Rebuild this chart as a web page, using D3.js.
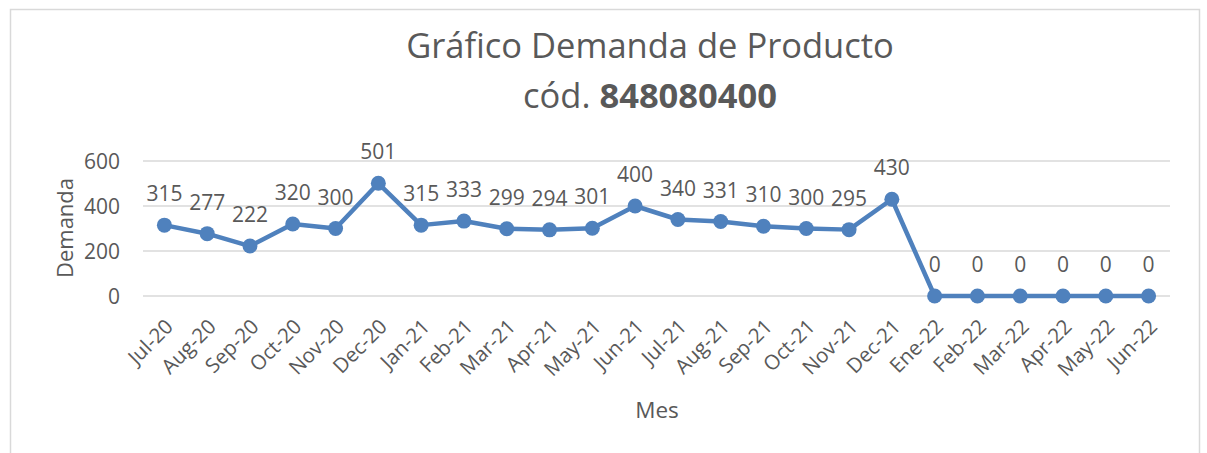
<!DOCTYPE html>
<html lang="es">
<head>
<meta charset="UTF-8">
<title>Gráfico Demanda de Producto</title>
<style>
    body { margin: 0; background: #fff; }
    text { font-family: "Open Sans", sans-serif; fill: #595959; }
    .grid line { stroke: #d9d9d9; stroke-width: 1.5; }
</style>
</head>
<body>
<svg id="chart" width="1207" height="453"></svg>
<script src="https://cdn.jsdelivr.net/npm/d3@7"></script>
<script>
const meses = ["Jul-20", "Aug-20", "Sep-20", "Oct-20", "Nov-20", "Dec-20",
    "Jan-21", "Feb-21", "Mar-21", "Apr-21", "May-21", "Jun-21",
    "Jul-21", "Aug-21", "Sep-21", "Oct-21", "Nov-21", "Dec-21",
    "Ene-22", "Feb-22", "Mar-22", "Apr-22", "May-22", "Jun-22"];
const demanda = [315, 277, 222, 320, 300, 501, 315, 333, 299, 294, 301, 400,
    340, 331, 310, 300, 295, 430, 0, 0, 0, 0, 0, 0];
const yTicks = [0, 200, 400, 600];

const svg = d3.select('#chart');
const mLeft = 143, mRight = 1170, mTop = 161, mBottom = 296;
const azul = '#4f81bd';

// marco
svg.append('rect')
    .attr('x', 10.5).attr('y', 9.5)
    .attr('width', 1189).attr('height', 450)
    .attr('fill', 'none').attr('stroke', '#d9d9d9').attr('stroke-width', 1.5);

const x = d3.scaleBand().domain(meses).range([mLeft, mRight]);
const y = d3.scaleLinear().domain([0, 600]).range([mBottom, mTop]);

// lineas de grilla
svg.append('g').attr('class', 'grid')
    .selectAll('line').data(yTicks).enter().append('line')
    .attr('x1', mLeft).attr('x2', mRight)
    .attr('y1', d => y(d)).attr('y2', d => y(d));

// eje y
const yAxis = svg.append('g')
    .attr('transform', `translate(${mLeft},0)`)
    .call(d3.axisLeft(y).tickValues(yTicks).tickSize(0).tickPadding(23));
yAxis.select('.domain').remove();
yAxis.selectAll('text').style('font-size', '21px').attr('fill', '#595959')
    .style('font-family', '"Open Sans", sans-serif')
    .attr('dy', '0.35em');

// eje x
const xAxis = svg.append('g')
    .attr('transform', `translate(0,${mBottom})`)
    .call(d3.axisBottom(x).tickSize(0));
xAxis.select('.domain').remove();
xAxis.selectAll('text')
    .style('font-size', '20.5px').attr('fill', '#595959')
    .style('font-family', '"Open Sans", sans-serif')
    .attr('text-anchor', 'end')
    .attr('dy', 0).attr('y', 0)
    .attr('transform', 'translate(10,32) rotate(-45)');

// linea
const line = d3.line()
    .x((d, i) => x(meses[i]) + x.bandwidth() / 2)
    .y(d => y(d));

svg.append('path')
    .attr('d', line(demanda))
    .attr('fill', 'none')
    .attr('stroke', azul)
    .attr('stroke-width', 4.5)
    .attr('stroke-linejoin', 'round');

svg.append('g').selectAll('circle')
    .data(demanda).enter().append('circle')
    .attr('cx', (d, i) => x(meses[i]) + x.bandwidth() / 2)
    .attr('cy', d => y(d))
    .attr('r', 7.5)
    .attr('fill', azul);

// etiquetas de datos
svg.append('g').selectAll('text')
    .data(demanda).enter().append('text')
    .attr('x', (d, i) => x(meses[i]) + x.bandwidth() / 2)
    .attr('y', d => y(d) - 24)
    .attr('text-anchor', 'middle')
    .style('font-size', '21px')
    .text(d => d);

// titulo
const titulo = svg.append('text')
    .attr('x', 650).attr('y', 58)
    .attr('text-anchor', 'middle')
    .style('font-size', '34.5px');
titulo.append('tspan').attr('x', 650).text('Gráfico Demanda de Producto');
titulo.append('tspan').attr('x', 650).attr('dy', 50).text('cód. ');
titulo.append('tspan').style('font-weight', 'bold').text('848080400');

// titulos de ejes
svg.append('text')
    .attr('transform', 'translate(73,228) rotate(-90)')
    .attr('text-anchor', 'middle')
    .style('font-size', '22px')
    .text('Demanda');

svg.append('text')
    .attr('x', 657).attr('y', 418)
    .attr('text-anchor', 'middle')
    .style('font-size', '22.5px')
    .text('Mes');
</script>
</body>
</html>
